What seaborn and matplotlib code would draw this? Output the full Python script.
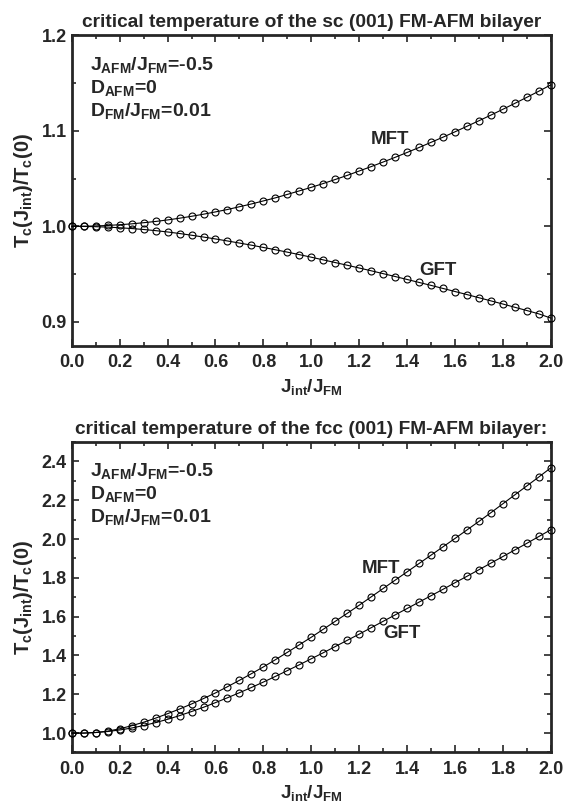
import matplotlib
matplotlib.use("Agg")
import matplotlib.pyplot as plt
from matplotlib.ticker import MultipleLocator
import seaborn as sns
import pandas as pd

# J_int/J_FM grid, every 0.05
j_int = [round(0.05 * i, 2) for i in range(41)]

# sc (001) bilayer
sc_mft = [1.0000, 1.0001, 1.0004, 1.0009, 1.0017, 1.0026, 1.0038, 1.0051, 1.0067, 1.0085,
          1.0105, 1.0127, 1.0151, 1.0176, 1.0205, 1.0234, 1.0266, 1.0298, 1.0334, 1.0371,
          1.0408, 1.0448, 1.0490, 1.0533, 1.0579, 1.0625, 1.0673, 1.0722, 1.0773, 1.0825,
          1.0879, 1.0933, 1.0989, 1.1047, 1.1105, 1.1164, 1.1225, 1.1287, 1.1350, 1.1414,
          1.1480]
sc_gft = [1.0000, 0.9999, 0.9996, 0.9992, 0.9985, 0.9977, 0.9967, 0.9955, 0.9941, 0.9925,
          0.9907, 0.9888, 0.9868, 0.9847, 0.9825, 0.9803, 0.9779, 0.9755, 0.9730, 0.9704,
          0.9677, 0.9649, 0.9621, 0.9593, 0.9564, 0.9535, 0.9505, 0.9475, 0.9444, 0.9413,
          0.9382, 0.9350, 0.9318, 0.9286, 0.9253, 0.9220, 0.9187, 0.9153, 0.9119, 0.9084,
          0.9040]

# fcc (001) bilayer
fcc_mft = [1.000, 1.000, 1.003, 1.010, 1.022, 1.038, 1.056, 1.077, 1.100, 1.124,
           1.150, 1.178, 1.207, 1.239, 1.272, 1.306, 1.341, 1.378, 1.416, 1.455,
           1.494, 1.535, 1.576, 1.617, 1.659, 1.702, 1.745, 1.788, 1.831, 1.874,
           1.917, 1.960, 2.003, 2.047, 2.091, 2.136, 2.182, 2.228, 2.274, 2.320,
           2.367]
fcc_gft = [1.000, 1.000, 1.003, 1.008, 1.016, 1.026, 1.039, 1.054, 1.071, 1.090,
           1.111, 1.133, 1.157, 1.182, 1.208, 1.235, 1.263, 1.292, 1.322, 1.352,
           1.383, 1.414, 1.446, 1.478, 1.510, 1.543, 1.576, 1.609, 1.642, 1.675,
           1.708, 1.741, 1.775, 1.808, 1.842, 1.876, 1.910, 1.944, 1.978, 2.013,
           2.048]

titles = ["critical temperature of the sc (001) FM-AFM bilayer",
          "critical temperature of the fcc (001) FM-AFM bilayer:"]
params = ["$J_{AFM}/J_{FM}$=-0.5", "$D_{AFM}$=0", "$D_{FM}/J_{FM}$=0.01"]

sns.set_style("ticks")
plt.rcParams["font.family"] = ["Liberation Sans", "DejaVu Sans"]
plt.rcParams["font.weight"] = "bold"
plt.rcParams["mathtext.fontset"] = "custom"
plt.rcParams["mathtext.rm"] = "Liberation Sans:bold"
plt.rcParams["mathtext.it"] = "Liberation Sans:bold"
plt.rcParams["mathtext.bf"] = "Liberation Sans:bold"

fig = plt.figure(figsize=(5.65, 8.08), dpi=100)
ax1 = fig.add_axes([0.127, 0.572, 0.848, 0.3845])
ax2 = fig.add_axes([0.127, 0.0687, 0.848, 0.3843])

panels = [
    (ax1, sc_mft, sc_gft, (0.875, 1.2), 0.1, 0.05, (1.33, 1.091), (1.53, 0.954)),
    (ax2, fcc_mft, fcc_gft, (0.9, 2.5), 0.2, 0.1, (1.29, 1.848), (1.38, 1.514)),
]

for i, (ax, mft, gft, ylim, ymaj, ymin, mpos, gpos) in enumerate(panels):
    df = pd.DataFrame({"x": j_int + j_int, "y": mft + gft,
                       "method": ["MFT"] * 41 + ["GFT"] * 41})
    sns.lineplot(data=df, x="x", y="y", units="method", estimator=None,
                 color="black", lw=0.8, marker="o", markersize=5,
                 markerfacecolor="none", markeredgecolor="black",
                 markeredgewidth=0.8, ax=ax, clip_on=False, zorder=3)
    ax.set_xlim(0, 2.0)
    ax.set_ylim(*ylim)
    ax.xaxis.set_major_locator(MultipleLocator(0.2))
    ax.xaxis.set_minor_locator(MultipleLocator(0.1))
    ax.yaxis.set_major_locator(MultipleLocator(ymaj))
    ax.yaxis.set_minor_locator(MultipleLocator(ymin))
    ax.xaxis.set_major_formatter(plt.FormatStrFormatter("%.1f"))
    ax.yaxis.set_major_formatter(plt.FormatStrFormatter("%.1f"))
    ax.tick_params(which="both", direction="in", top=True, right=True,
                   labelsize=13, width=1.2)
    ax.tick_params(which="major", length=5)
    ax.tick_params(which="minor", length=3)
    ax.tick_params(axis="x", pad=6)
    for sp in ax.spines.values():
        sp.set_linewidth(2)
    for lab in ax.get_xticklabels() + ax.get_yticklabels():
        lab.set_fontweight("bold")
    ax.set_title(titles[i], fontsize=13.8, fontweight="bold", pad=6)
    ax.set_xlabel("$J_{int}/J_{FM}$", fontsize=13.5, labelpad=4)
    ax.set_ylabel("$T_c(J_{int})/T_c(0)$", fontsize=14.5, labelpad=5)
    for k, p in enumerate(params):
        ax.text(0.038, 0.905 - 0.074 * k, p, transform=ax.transAxes,
                fontsize=14, fontweight="bold", va="center", ha="left")
    ax.text(mpos[0], mpos[1], "MFT", fontsize=13.5, fontweight="bold",
            ha="center", va="center")
    ax.text(gpos[0], gpos[1], "GFT", fontsize=13.5, fontweight="bold",
            ha="center", va="center")

fig.savefig("out.png", dpi=100)
